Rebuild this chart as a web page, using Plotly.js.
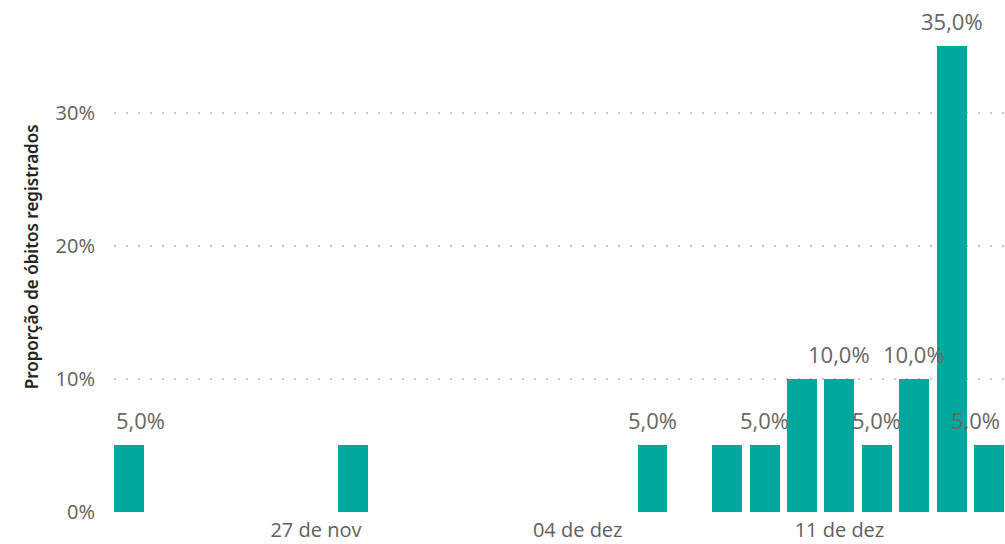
<!DOCTYPE html>
<html>
<head>
<meta charset="utf-8">
<script src="https://cdn.plot.ly/plotly-3.0.1.min.js"></script>
<style>
  html, body { margin: 0; padding: 0; background: #ffffff; }
  #chart { width: 1005px; height: 544px; }
</style>
</head>
<body>
<div id="chart"></div>
<script>
// Data
const dates = ['2020-11-22','2020-11-28','2020-12-06','2020-12-08','2020-12-09','2020-12-10','2020-12-11','2020-12-12','2020-12-13','2020-12-14','2020-12-15'];
const shares = [0.05, 0.05, 0.05, 0.05, 0.05, 0.10, 0.10, 0.05, 0.10, 0.35, 0.05];
const labelShown = [true, false, true, false, true, false, true, true, true, true, true];
const tickDates = ['2020-11-27', '2020-12-04', '2020-12-11'];
const tickLabels = ['27 de nov', '04 de dez', '11 de dez'];
const yTickVals = [0, 0.1, 0.2, 0.3];
const yTickText = ['0%', '10%', '20%', '30%'];
const yTitle = 'Proporção de óbitos registrados';

const DAY = 86400000;
const barColor = '#01A89E';
const labelColor = '#666666';
const axisColor = '#605E5C';

function fmt(v) {
  return (v * 100).toFixed(1).replace('.', ',') + '%';
}

const trace = {
  type: 'bar',
  x: dates,
  y: shares,
  width: dates.map(() => 0.8 * DAY),
  marker: { color: barColor },
  hoverinfo: 'skip'
};

const annotations = [];
dates.forEach((d, i) => {
  if (!labelShown[i]) return;
  let xanchor = 'center', xshift = 0;
  if (i === 0) { xanchor = 'left'; xshift = -15; }
  if (i === dates.length - 1) { xanchor = 'right'; xshift = 13; }
  annotations.push({
    x: d, y: shares[i], xref: 'x', yref: 'y',
    text: fmt(shares[i]), showarrow: false,
    xanchor: xanchor, yanchor: 'bottom', xshift: xshift, yshift: 8,
    font: { family: 'Open Sans, sans-serif', size: 22, color: labelColor }
  });
});
annotations.push({
  xref: 'paper', yref: 'paper', x: -0.093, y: 0.532,
  text: yTitle, textangle: -90, showarrow: false,
  xanchor: 'center', yanchor: 'middle',
  font: { family: 'Noto Sans, sans-serif', size: 17, color: '#252423', weight: 600 }
});

const layout = {
  width: 1005, height: 544,
  margin: { l: 114, r: 0, t: 33, b: 32 },
  paper_bgcolor: '#ffffff', plot_bgcolor: '#ffffff',
  showlegend: false,
  bargap: 0,
  xaxis: {
    type: 'date',
    range: ['2020-11-21 14:24', '2020-12-15 10:16'],
    tickvals: tickDates, ticktext: tickLabels,
    showgrid: false, zeroline: false, showline: false, ticks: '',
    ticklabelstandoff: 4,
    tickfont: { family: 'Open Sans, sans-serif', size: 20, color: axisColor },
    fixedrange: true
  },
  yaxis: {
    range: [0, 0.36],
    tickvals: yTickVals, ticktext: yTickText,
    showgrid: true, gridcolor: '#C8C6C4', gridwidth: 1.5, griddash: '1.5px,10.5px',
    zeroline: false, showline: false, ticks: '',
    ticklabelstandoff: 18,
    tickfont: { family: 'Open Sans, sans-serif', size: 20, color: axisColor },
    fixedrange: true
  },
  annotations: annotations
};

Plotly.newPlot('chart', [trace], layout, { displayModeBar: false, staticPlot: true });
</script>
</body>
</html>
